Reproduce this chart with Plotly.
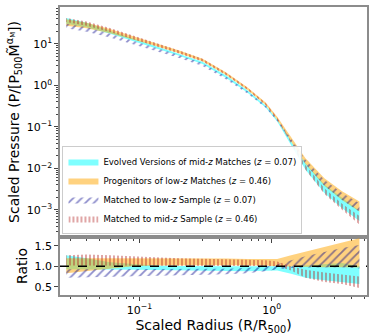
import plotly.graph_objects as go
from plotly.subplots import make_subplots

# scaled radius R/R500
radius = [0.028, 0.04, 0.06, 0.09, 0.13, 0.2, 0.3, 0.45, 0.65, 0.9, 1.1, 1.4, 1.8, 2.5, 3.4, 4.6]
# reference pressure profile
p_ref = [33, 27, 19, 12.8, 9.0, 5.8, 3.7, 1.75, 0.78, 0.33, 0.15, 0.045, 0.013, 0.0039, 0.00177, 0.00095]

# ratio bands (lower / upper)
evolved_lo = [0.93, 0.93, 0.92, 0.92, 0.91, 0.90, 0.89, 0.88, 0.88, 0.89, 0.90, 0.82, 0.72, 0.66, 0.62, 0.57]
evolved_hi = [1.27, 1.20, 1.10, 1.05, 1.02, 1.01, 1.00, 1.00, 1.00, 1.00, 1.00, 1.00, 1.02, 1.05, 1.08, 1.00]
progen_lo = [0.83, 0.88, 0.95, 1.00, 1.02, 1.03, 1.03, 1.03, 1.03, 1.02, 1.00, 0.99, 0.98, 0.98, 0.98, 0.97]
progen_hi = [1.20, 1.20, 1.20, 1.20, 1.20, 1.20, 1.19, 1.19, 1.18, 1.18, 1.18, 1.27, 1.36, 1.48, 1.60, 1.69]
lowz_lo = [0.72, 0.73, 0.75, 0.77, 0.78, 0.79, 0.80, 0.81, 0.83, 0.88, 0.93, 0.96, 0.97, 0.98, 0.98, 0.95]
lowz_hi = [0.93, 0.93, 0.93, 0.93, 0.93, 0.93, 0.93, 0.94, 0.96, 0.99, 1.05, 1.15, 1.25, 1.35, 1.45, 1.52]
midz_lo = [1.02, 1.02, 1.02, 1.02, 1.02, 1.02, 1.02, 1.02, 1.02, 1.01, 1.00, 0.90, 0.72, 0.62, 0.57, 0.47]
midz_hi = [1.27, 1.29, 1.27, 1.24, 1.22, 1.20, 1.18, 1.17, 1.16, 1.15, 1.12, 1.00, 0.92, 0.85, 0.80, 0.75]

names = ["Evolved Versions of mid-<i>z</i> Matches (<i>z</i> = 0.07)",
         "Progenitors of low-<i>z</i> Matches (<i>z</i> = 0.46)",
         "Matched to low-<i>z</i> Sample (<i>z</i> = 0.07)",
         "Matched to mid-<i>z</i> Sample (<i>z</i> = 0.46)"]
bands = [(evolved_lo, evolved_hi), (progen_lo, progen_hi), (lowz_lo, lowz_hi), (midz_lo, midz_hi)]
fills = ["rgba(0,255,255,0.5)", "rgba(255,165,0,0.5)", "rgba(0,0,0,0)", "rgba(0,0,0,0)"]
patterns = [None, None,
            dict(shape="/", fgcolor="rgba(0,0,139,0.9)", bgcolor="rgba(0,0,0,0)", size=6, solidity=0.3),
            dict(shape="|", fgcolor="rgba(178,34,34,0.9)", bgcolor="rgba(0,0,0,0)", size=4, solidity=0.45)]

fig = make_subplots(rows=2, cols=1, shared_xaxes=True, vertical_spacing=0,
                    row_heights=[0.7983, 0.2017])

for i, (lo, hi) in enumerate(bands):
    for row in (1, 2):
        if row == 1:
            ylo = [p * r for p, r in zip(p_ref, lo)]
            yhi = [p * r for p, r in zip(p_ref, hi)]
        else:
            ylo, yhi = lo, hi
        fig.add_trace(go.Scatter(x=radius, y=ylo, mode="lines", line=dict(width=0),
                                 showlegend=False, hoverinfo="skip"), row=row, col=1)
        kw = dict(x=radius, y=yhi, mode="lines", line=dict(width=0), fill="tonexty",
                  fillcolor=fills[i], name=names[i], showlegend=(row == 1))
        if patterns[i]:
            kw["fillpattern"] = patterns[i]
        fig.add_trace(go.Scatter(**kw), row=row, col=1)

fig.add_shape(type="line", xref="x2 domain", yref="y2", x0=0, x1=1, y0=1, y1=1,
              line=dict(color="black", width=1.5, dash="dash"))

minor_x = [0.03, 0.04, 0.05, 0.06, 0.07, 0.08, 0.09, 0.2, 0.3, 0.4, 0.5, 0.6, 0.7, 0.8, 0.9, 2, 3, 4, 5]
minor_y = [m * 10 ** e for e in range(-4, 2) for m in range(2, 10)]

axis_style = dict(showline=True, mirror=True, linecolor="#8c8c8c", linewidth=1.5,
                  ticks="outside", tickcolor="#444", ticklen=4, showgrid=False, zeroline=False,
                  tickfont=dict(size=11, color="black"))

fig.update_xaxes(type="log", range=[-1.6, 0.72], tickmode="array", tickvals=[0.1, 1],
                 ticktext=["10<sup>−1</sup>", "10<sup>0</sup>"],
                 minor=dict(ticks="outside", ticklen=2, tickcolor="#444", tickmode="array", tickvals=minor_x),
                 **axis_style)
fig.update_xaxes(showticklabels=False, row=1, col=1)
fig.update_xaxes(title=dict(text="Scaled Radius (R/R<sub>500</sub>)", font=dict(size=14, color="black"), standoff=2),
                 row=2, col=1)

fig.update_yaxes(type="log", range=[-3.65, 1.89], tickmode="array",
                 tickvals=[1e-3, 1e-2, 1e-1, 1, 10],
                 ticktext=["10<sup>−3</sup>", "10<sup>−2</sup>", "10<sup>−1</sup>", "10<sup>0</sup>", "10<sup>1</sup>"],
                 minor=dict(ticks="outside", ticklen=2, tickcolor="#444", tickmode="array", tickvals=minor_y),
                 title=dict(text="Scaled Pressure (P/[P<sub>500</sub>M̃<sup>α<sub>M</sub></sup>])",
                            font=dict(size=14, color="black"), standoff=4),
                 row=1, col=1, **axis_style)
fig.update_yaxes(range=[0.3, 1.72], tickmode="array", tickvals=[0.5, 1.0, 1.5],
                 ticktext=["0.5", "1.0", "1.5"],
                 title=dict(text="Ratio", font=dict(size=14, color="black"), standoff=4),
                 row=2, col=1, **axis_style)

fig.update_layout(
    width=374, height=336,
    margin=dict(l=60, r=6, t=5, b=41),
    plot_bgcolor="white", paper_bgcolor="white",
    font=dict(family="DejaVu Sans", color="black"),
    legend=dict(x=0.008, y=0.212, xanchor="left", yanchor="bottom", traceorder="normal",
                bgcolor="rgba(255,255,255,0.9)", bordercolor="#cccccc", borderwidth=1,
                font=dict(size=8.5), itemwidth=30, tracegroupgap=0),
)

fig.write_html("out.html", config={"displayModeBar": False},
               post_script="document.body.style.margin='0';document.body.style.overflow='hidden';")
